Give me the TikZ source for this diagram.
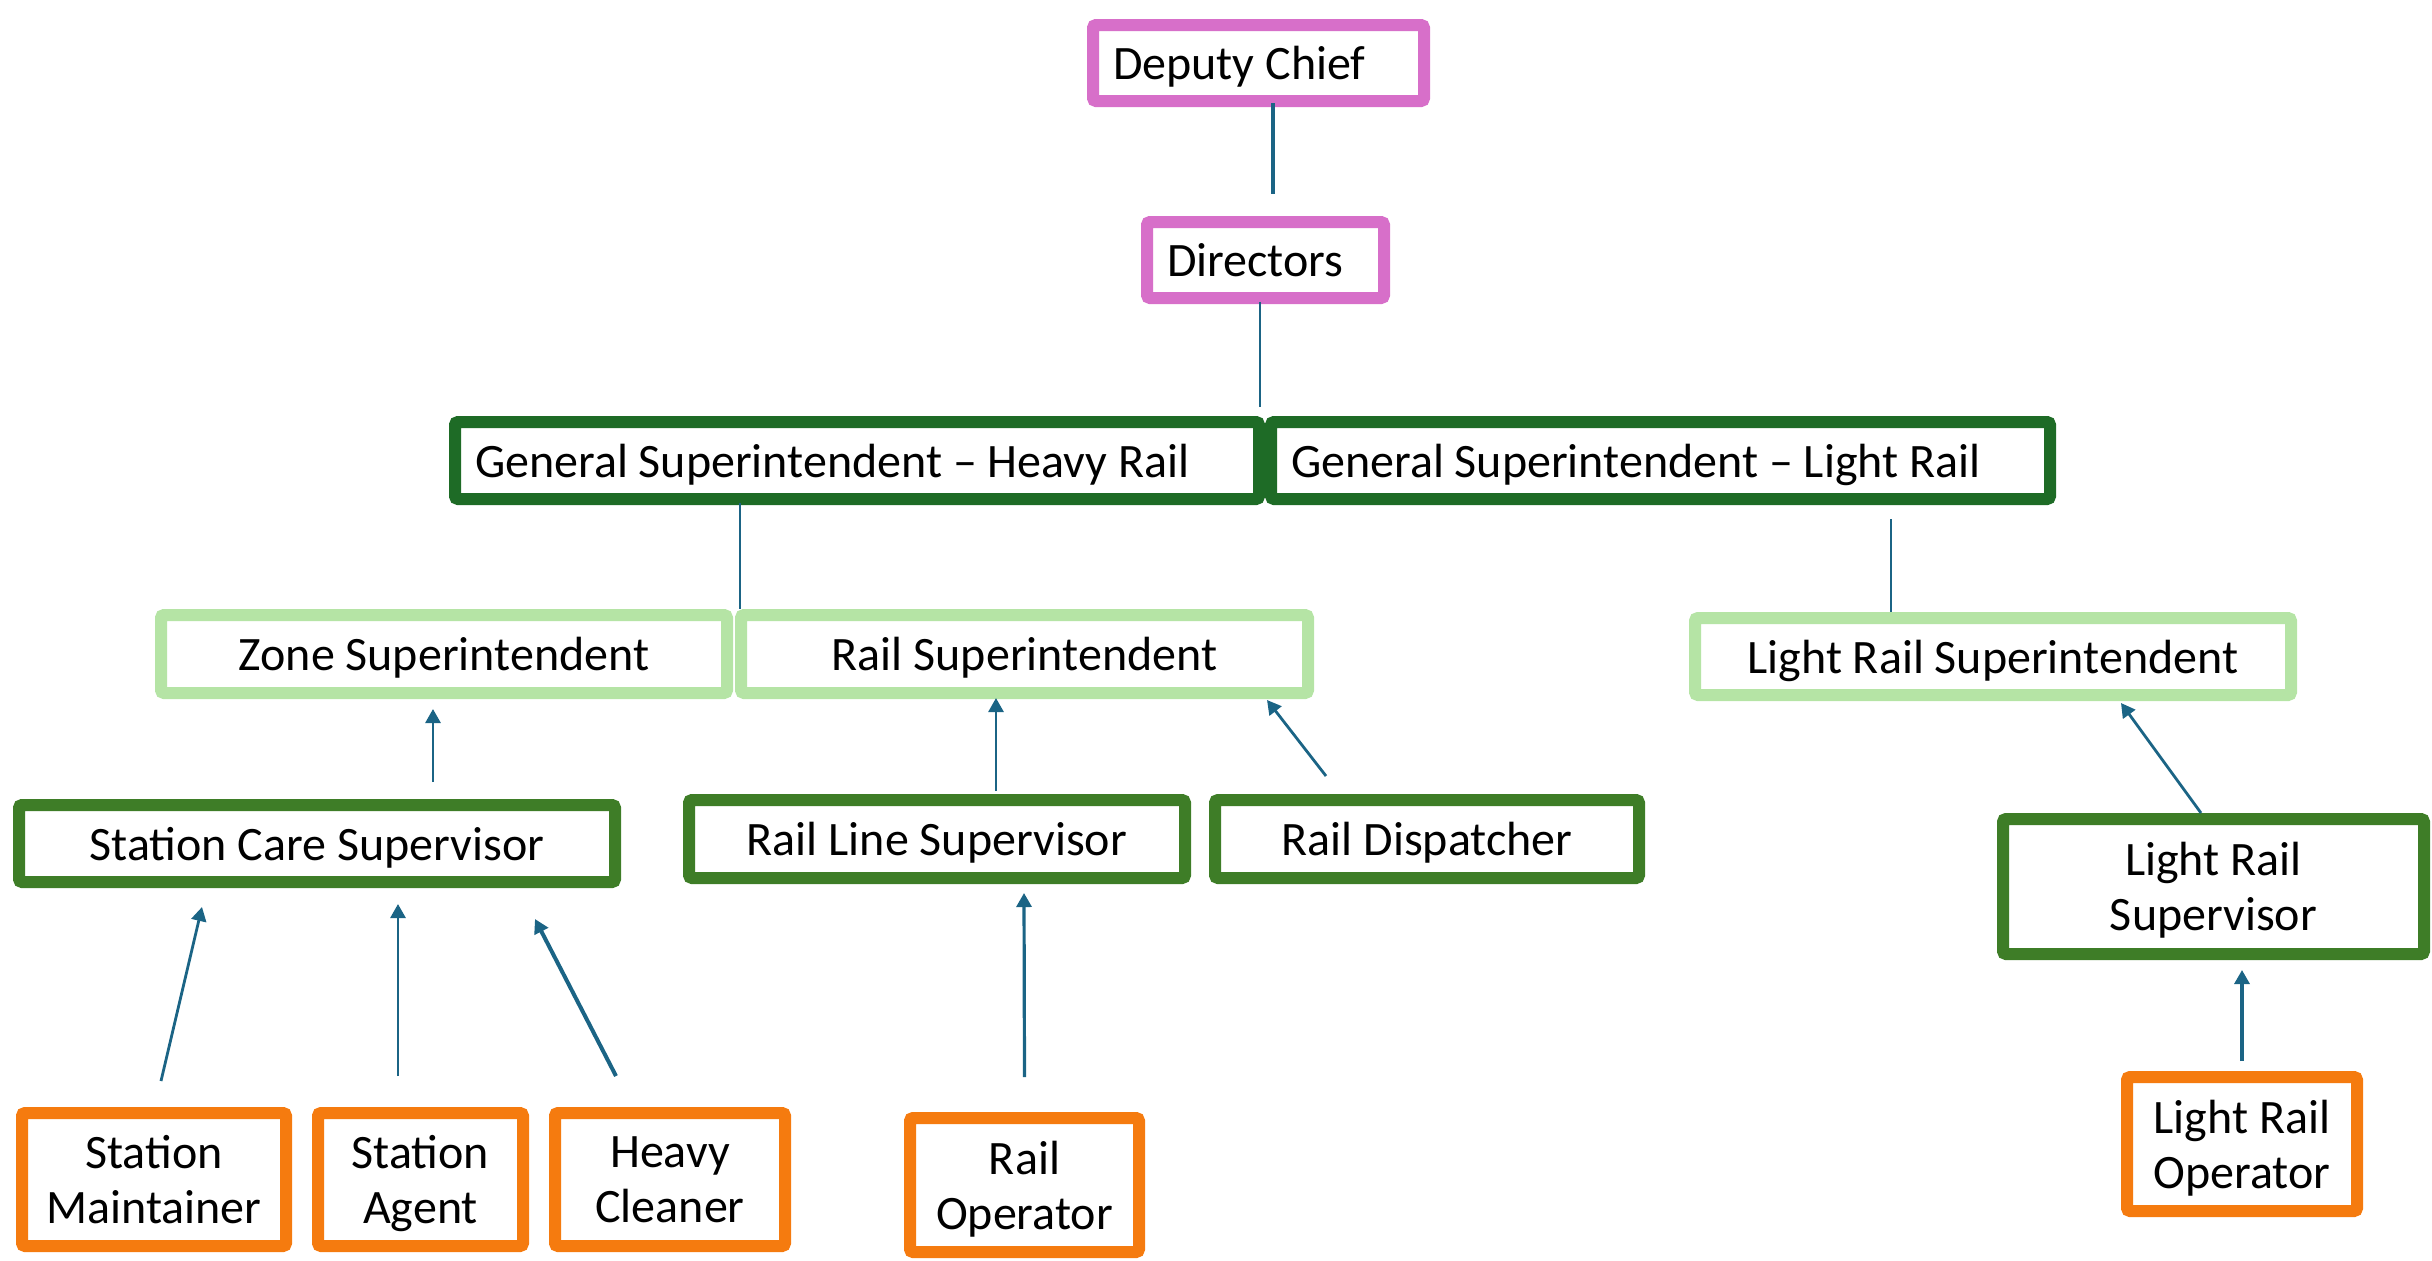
\documentclass[tikz,border=0pt]{standalone}
\usepackage{fontspec}
\setmainfont{Carlito}
\usetikzlibrary{arrows.meta,calc}
\definecolor{pinkc}{HTML}{D76FC9}
\definecolor{gsgreen}{HTML}{1E6B26}
\definecolor{ltgreen}{HTML}{B5E4A5}
\definecolor{midgreen}{HTML}{3E7D27}
\definecolor{orangec}{HTML}{F57B0F}
\definecolor{connc}{HTML}{1B6485}
\newcommand{\nd}[1]{\raisebox{0pt}[\height][0pt]{#1}}
\tikzset{
  box/.style={draw, line width=6pt, fill=white, rounded corners=1.5pt, inner sep=0pt, outer sep=0pt,
    font=\fontsize{24}{27.5}\selectfont, align=center, text=black},
  lbox/.style={align=flush left, inner xsep=10pt},
  lev1/.style={box, draw=pinkc},
  lev2/.style={box, draw=gsgreen},
  lev3/.style={box, draw=ltgreen},
  lev4/.style={box, draw=midgreen},
  lev5/.style={box, draw=orangec},
  conn/.style={draw=connc, line width=1.1pt},
  arr/.style={draw=connc, line width=1.4pt, -{Triangle[length=7pt,width=7.5pt]}},
}
\begin{document}
\begin{tikzpicture}[x=0.5pt,y=-0.5pt]
\useasboundingbox (0,0) rectangle (2432,1260);
% level 1
\node[lev1, lbox, minimum width=165.5pt, minimum height=38pt, text width=145.5pt] (dc) at (1258.5,63) {\nd{Deputy Chief}};
\node[lev1, lbox, minimum width=118.5pt, minimum height=38pt, text width=98.5pt] (dir) at (1265.5,260) {\nd{Directors}};
% level 2
\node[lev2, lbox, minimum width=402pt, minimum height=38.5pt, text width=382pt] (gsh) at (857,460.5) {\nd{General Superintendent -- Heavy Rail}};
\node[lev2, lbox, minimum width=389.5pt, minimum height=38.5pt, text width=369.5pt] (gsl) at (1660.5,460.5) {\nd{General Superintendent -- Light Rail}};
% level 3
\node[lev3, minimum width=283pt, minimum height=39pt] (zone) at (444,654) {\nd{Zone Superintendent}};
\node[lev3, minimum width=283.5pt, minimum height=39pt] (rs) at (1024.5,654) {\nd{Rail Superintendent}};
\node[lev3, minimum width=298pt, minimum height=38.5pt] (lrs) at (1993,656.5) {\nd{Light Rail Superintendent}};
% level 4
\node[lev4, minimum width=298pt, minimum height=38.5pt] (scs) at (317,843.5) {\nd{Station Care Supervisor}};
\node[lev4, minimum width=248pt, minimum height=39pt] (rls) at (937,839) {\nd{Rail Line Supervisor}};
\node[lev4, minimum width=212pt, minimum height=39pt] (rd) at (1427,839) {\nd{Rail Dispatcher}};
\node[lev4, minimum width=210.5pt, minimum height=67.5pt] (lrsup) at (2213.5,886.5) {Light Rail\\\nd{Supervisor}};
% level 5
\node[lev5, minimum width=132pt, minimum height=66.5pt] (sm) at (154,1179.5) {Station\\\nd{Maintainer}};
\node[lev5, minimum width=102.5pt, minimum height=66.5pt] (sa) at (420.5,1179.5) {Station\\\nd{Agent}};
\node[lev5, minimum width=115pt, minimum height=66.5pt] (hc) at (670,1179.5) {Heavy\\\nd{Cleaner}};
\node[lev5, minimum width=114.5pt, minimum height=67pt] (ro) at (1024.5,1185) {Rail\\\nd{Operator}};
\node[lev5, minimum width=115pt, minimum height=67pt] (lro) at (2242,1144) {Light Rail\\\nd{Operator}};
% connectors
\draw[conn, line width=1.7pt] ($(dc.south)+(14.5,2)$) -- ($(dir.north)+(7.5,-28)$);
\draw[conn] ($(dir.south)+(-5.5,4)$) -- ($(gsh.north east)+(1,-15)$);
\draw[conn] ($(gsh.south)+(-117,4)$) -- ($(zone.north east)+(13,-6)$);
\draw[conn] ($(gsl.south)+(230.5,20)$) -- ($(lrs.north)+(-102,-6)$);
\draw[arr] ($(scs.north)+(116,-23)$) -- ($(zone.south)+(-11,16)$);
\draw[arr] ($(sm.north)+(7,-32)$) -- ($(scs.south)+(-115,25)$);
\draw[arr] ($(sa.north)+(-22.5,-37)$) -- ($(scs.south)+(81,22)$);
\draw[arr, line width=2pt] ($(hc.north)+(-54,-37)$) -- ($(scs.south)+(218,37)$);
\draw[arr] ($(rls.north)+(59,-9)$) -- ($(rs.south)+(-28.5,5)$);
\draw[arr, line width=1.6pt] ($(ro.north)+(0,-41)$) -- ($(rls.south)+(87,15)$);
\draw[arr] ($(rd.north)+(-101,-24)$) -- ($(rs.south)+(242.5,7)$);
\draw[arr] ($(lrsup.north)+(-12.5,-6)$) -- ($(lrs.south)+(128,8)$);
\draw[arr, line width=1.6pt] ($(lro.north)+(0,-16)$) -- ($(lrsup.south)+(28.5,16)$);
\end{tikzpicture}
\end{document}
